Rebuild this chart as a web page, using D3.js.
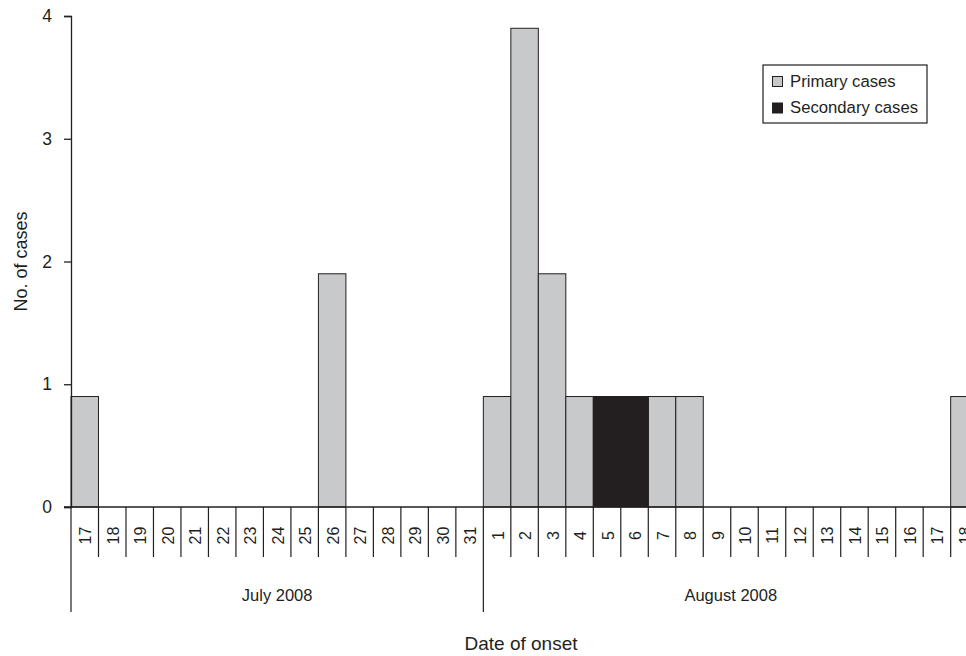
<!DOCTYPE html>
<html lang="en">
<head>
    <meta charset="UTF-8">
    <title>Date of onset</title>
    <script src="https://cdn.jsdelivr.net/npm/d3@7"></script>
    <style>
        body { margin: 0; background: #fff; }
        text { font-family: "Liberation Sans", Arial, sans-serif; fill: #231f20; }
    </style>
</head>
<body>
<script>
    // Data
    var days = ["17","18","19","20","21","22","23","24","25","26","27","28","29","30","31",
                "1","2","3","4","5","6","7","8","9","10","11","12","13","14","15","16","17","18"];
    var months = ["July", "July", "July", "July", "July", "July", "July", "July", "July", "July",
                  "July", "July", "July", "July", "July",
                  "August", "August", "August", "August", "August", "August", "August", "August",
                  "August", "August", "August", "August", "August", "August", "August", "August",
                  "August", "August"];
    var monthLabels = ["July 2008", "August 2008"];
    var primary = [0.9,0,0,0,0,0,0,0,0,1.9,0,0,0,0,0,
                   0.9,3.9,1.9,0.9,0,0,0.9,0.9,0,0,0,0,0,0,0,0,0,0.9];
    var secondary = [0,0,0,0,0,0,0,0,0,0,0,0,0,0,0,
                     0,0,0,0,0.9,0.9,0,0,0,0,0,0,0,0,0,0,0,0];
    var yTicks = [0, 1, 2, 3, 4];

    var w = 966, h = 656;
    var plotLeft = 71, plotTop = 16, plotBottom = 507;
    var band = 27.49;
    var ink = "#231f20";

    var keys = days.map(function(d, i) { return i; });

    var xScale = d3.scaleBand()
        .domain(keys)
        .range([plotLeft, plotLeft + band * days.length])
        .padding(0);

    var yScale = d3.scaleLinear()
        .domain([0, 4])
        .range([plotBottom, plotTop]);

    var svg = d3.select("body")
        .append("svg")
        .attr("width", w)
        .attr("height", h);

    // stacked bars
    var rows = keys.map(function(i) {
        return { i: i, primary: primary[i], secondary: secondary[i] };
    });
    var stack = d3.stack().keys(["primary", "secondary"])(rows);
    var fills = { primary: "#c8c9cb", secondary: "#231f20" };

    svg.append("g").selectAll("g")
        .data(stack)
        .enter()
        .append("g")
        .attr("fill", function(s) { return fills[s.key]; })
        .selectAll("rect")
        .data(function(s) { return s.filter(function(d) { return d[1] - d[0] > 0; }); })
        .enter()
        .append("rect")
        .attr("x", function(d) { return xScale(d.data.i); })
        .attr("y", function(d) { return yScale(d[1]); })
        .attr("width", xScale.bandwidth())
        .attr("height", function(d) { return yScale(d[0]) - yScale(d[1]); })
        .attr("stroke", ink)
        .attr("stroke-width", 1);

    // y axis
    var yAxis = d3.axisLeft(yScale)
        .tickValues(yTicks)
        .tickFormat(d3.format("d"))
        .tickSize(7)
        .tickPadding(12);

    var gy = svg.append("g")
        .attr("transform", "translate(" + plotLeft + ",0)")
        .call(yAxis);
    gy.select(".domain").attr("stroke", ink).attr("stroke-width", 1.3);
    gy.selectAll(".tick line").attr("stroke", ink).attr("stroke-width", 1.3);
    gy.selectAll(".tick text")
        .attr("font-size", "17.5px")
        .attr("font-family", "Liberation Sans, Arial, sans-serif")
        .attr("fill", ink);

    // x baseline
    svg.append("line")
        .attr("x1", plotLeft - 7).attr("x2", w)
        .attr("y1", plotBottom).attr("y2", plotBottom)
        .attr("stroke", ink).attr("stroke-width", 1.3);

    // day separators
    svg.append("g").selectAll("line")
        .data(keys)
        .enter()
        .append("line")
        .attr("x1", function(i) { return xScale(i); })
        .attr("x2", function(i) { return xScale(i); })
        .attr("y1", plotBottom)
        .attr("y2", function(i) { return (i === 0 || months[i] !== months[i - 1]) ? 612 : 557; })
        .attr("stroke", ink)
        .attr("stroke-width", 1.2);

    // day labels
    svg.append("g").selectAll("text")
        .data(keys)
        .enter()
        .append("text")
        .text(function(i) { return days[i]; })
        .attr("transform", function(i) {
            return "translate(" + (xScale(i) + xScale.bandwidth() / 2 + 6.5) + "," + 535.5 + ") rotate(-90)";
        })
        .attr("text-anchor", "middle")
        .attr("font-size", "16px");

    // month labels
    monthLabels.forEach(function(label) {
        var name = label.split(" ")[0];
        var idx = keys.filter(function(i) { return months[i] === name; });
        var x0 = xScale(idx[0]);
        var x1 = xScale(idx[idx.length - 1]) + xScale.bandwidth();
        svg.append("text")
            .text(label)
            .attr("x", (x0 + x1) / 2)
            .attr("y", 601)
            .attr("text-anchor", "middle")
            .attr("font-size", "16.5px");
    });

    // axis titles
    svg.append("text")
        .text("Date of onset")
        .attr("x", 521)
        .attr("y", 650)
        .attr("text-anchor", "middle")
        .attr("font-size", "19px");

    svg.append("text")
        .text("No. of cases")
        .attr("transform", "translate(27," + ((plotTop + plotBottom) / 2) + ") rotate(-90)")
        .attr("text-anchor", "middle")
        .attr("font-size", "18px");

    // legend
    var legend = svg.append("g").attr("transform", "translate(763,65)");
    legend.append("rect")
        .attr("width", 164).attr("height", 58)
        .attr("fill", "#fff").attr("stroke", ink).attr("stroke-width", 1.2);
    var legendItems = [["Primary cases", fills.primary], ["Secondary cases", fills.secondary]];
    legendItems.forEach(function(item, k) {
        legend.append("rect")
            .attr("x", 9.5).attr("y", 11.5 + k * 26.5)
            .attr("width", 10).attr("height", 10)
            .attr("fill", item[1]).attr("stroke", ink).attr("stroke-width", 1);
        legend.append("text")
            .text(item[0])
            .attr("x", 27).attr("y", 22 + k * 26)
            .attr("font-size", "16.7px");
    });
</script>
</body>
</html>
